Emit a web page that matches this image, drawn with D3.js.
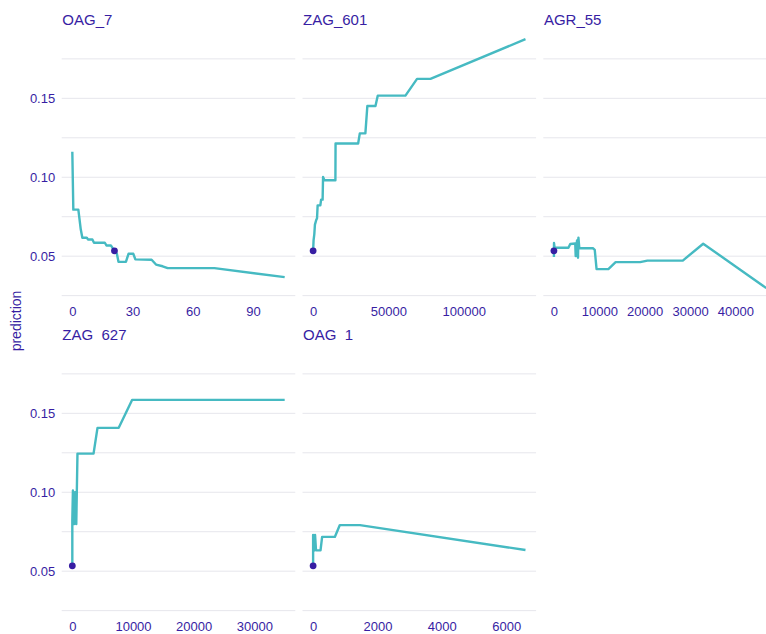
<!DOCTYPE html>
<html><head><meta charset="utf-8">
<script src="https://cdn.jsdelivr.net/npm/d3@7"></script>
<style>body{margin:0;background:#fff}svg{display:block;font-family:"Liberation Sans",Arial,Helvetica,sans-serif}</style>
</head><body><svg id="chart" width="766" height="634"></svg>
<script>
// ---- data ----
const variables = ["OAG_7", "ZAG_601", "AGR_55", "ZAG_627", "OAG_1"];

const profileOAG_7 = [
  [0, 0.1161], [0.5, 0.0795], [3, 0.0795], [4.2, 0.0670], [5, 0.0617], [7.2, 0.0617],
  [7.8, 0.0606], [10, 0.0606], [10.8, 0.0585], [16.2, 0.0585], [17, 0.0568], [19.2, 0.0568],
  [21, 0.0534], [22.2, 0.0515], [23, 0.0464], [26.7, 0.0464], [28, 0.0515], [30.4, 0.0515],
  [31.4, 0.0480], [39.5, 0.0477], [41.7, 0.0447], [45, 0.0436], [47.5, 0.0424],
  [70.8, 0.0424], [105.8, 0.0367]
];
const profileZAG_601 = [
  [0, 0.0534], [300, 0.0600], [800, 0.0640], [1200, 0.0700], [2000, 0.0727], [2600, 0.0740],
  [3000, 0.0822], [4800, 0.0822], [5300, 0.0858], [6300, 0.0858], [6600, 0.1002], [7500, 0.0981],
  [14800, 0.0981], [14900, 0.1214], [29900, 0.1214], [31000, 0.1278], [34700, 0.1278],
  [36000, 0.1451], [41400, 0.1451], [42900, 0.1517], [61300, 0.1517], [69000, 0.1623],
  [77900, 0.1623], [141000, 0.1875]
];
const profileAGR_55 = [
  [0, 0.0495], [20, 0.0583], [150, 0.0553], [3200, 0.0553], [3600, 0.0577], [4700, 0.0580],
  [4800, 0.0500], [5100, 0.0600], [5300, 0.0490], [5400, 0.0617], [5600, 0.0550], [8600, 0.0550],
  [9000, 0.0540], [9400, 0.0418], [12000, 0.0418], [13600, 0.0462], [19000, 0.0462],
  [20600, 0.0472], [28400, 0.0472], [32900, 0.0579], [46800, 0.0298]
];
const profileZAG_627 = [
  [0, 0.0534], [0, 0.0824], [100, 0.1011], [300, 0.0798], [450, 0.1000], [650, 0.0798],
  [850, 0.1245], [3500, 0.1245], [4150, 0.1408], [7650, 0.1408], [9850, 0.1585], [35000, 0.1585]
];
const profileOAG_1 = [
  [0, 0.0534], [0, 0.0730], [30, 0.0630], [60, 0.0730], [90, 0.0632], [230, 0.0632],
  [280, 0.0717], [675, 0.0717], [830, 0.0792], [1455, 0.0792], [6600, 0.0634]
];

const observedX = [21, 0, 0, 0, 0];
const observedPrediction = 0.0534;

const xTicksOAG_7 = [0, 30, 60, 90];
const xTicksZAG_601 = [0, 50000, 100000];
const xTicksAGR_55 = [0, 10000, 20000, 30000, 40000];
const xTicksZAG_627 = [0, 10000, 20000, 30000];
const xTicksOAG_1 = [0, 2000, 4000, 6000];

const yTicks = [0.05, 0.10, 0.15];
const yTickLabels = ["0.05", "0.10", "0.15"];
const yMinorTicks = [0.025, 0.075, 0.125, 0.175];
const yTitle = "prediction";

// ---- layout / style ----
const profiles = [profileOAG_7, profileZAG_601, profileAGR_55, profileZAG_627, profileOAG_1];
const xTickSets = [xTicksOAG_7, xTicksZAG_601, xTicksAGR_55, xTicksZAG_627, xTicksOAG_1];
const lineColor = "#46bac2", pointColor = "#371ea3", textColor = "#371ea3", gridColor = "#e6e6ec";
const panelW = 233.6, panelH = 273.8;
const panelLefts = [61.7, 302.5, 543.3];
const rowTops = [26.7, 341.7];

const svg = d3.select("#chart");

function expand(ext) {
  const pad = (ext[1] - ext[0]) * 0.05;
  return [ext[0] - pad, ext[1] + pad];
}
const allY = profiles.flat().map(d => d[1]).concat([observedPrediction]);
const yDomain = expand(d3.extent(allY));

const defs = svg.append("defs");

variables.forEach((v, i) => {
  const col = i % 3, row = Math.floor(i / 3);
  const left = panelLefts[col], top = rowTops[row];
  const data = profiles[i];
  const x = d3.scaleLinear().domain(expand(d3.extent(data, d => d[0]))).range([left, left + panelW]);
  const y = d3.scaleLinear().domain(yDomain).range([top + panelH, top]);

  const g = svg.append("g");
  g.selectAll("line.minor").data(yMinorTicks).join("line")
    .attr("x1", left).attr("x2", left + panelW)
    .attr("y1", d => y(d)).attr("y2", d => y(d))
    .attr("stroke", gridColor).attr("stroke-width", 1);
  g.selectAll("line.major").data(yTicks).join("line")
    .attr("x1", left).attr("x2", left + panelW)
    .attr("y1", d => y(d)).attr("y2", d => y(d))
    .attr("stroke", gridColor).attr("stroke-width", 1);

  if (col === 0) {
    const ya = d3.axisLeft(y).tickValues(yTicks).tickFormat((d, k) => yTickLabels[k]).tickSize(0).tickPadding(6.5);
    const ag = svg.append("g").attr("transform", `translate(${left},0)`).call(ya);
    ag.select(".domain").remove();
    ag.selectAll("text").attr("fill", textColor).attr("font-size", 13)
      .attr("font-family", '"Liberation Sans",Arial,sans-serif');
  }

  const xa = d3.axisBottom(x).tickValues(xTickSets[i]).tickFormat(d3.format("d")).tickSize(0).tickPadding(0);
  const xg = svg.append("g").attr("transform", `translate(0,${top + panelH + 5})`).call(xa);
  xg.select(".domain").remove();
  xg.selectAll("text").attr("fill", textColor).attr("font-size", 13).attr("dy", "0.71em")
    .attr("y", 1).attr("font-family", '"Liberation Sans",Arial,sans-serif');

  g.append("path").datum(data)
    .attr("d", d3.line().x(d => x(d[0])).y(d => y(d[1])))
    .attr("fill", "none").attr("stroke", lineColor).attr("stroke-width", 2.4)
    .attr("stroke-linejoin", "round").attr("stroke-linecap", "butt");

  g.append("circle").attr("cx", x(observedX[i])).attr("cy", y(observedPrediction))
    .attr("r", 3.4).attr("fill", pointColor);

  const baseline = top - 1.7;
  const t = svg.append("text").attr("x", left + 0.6).attr("y", baseline)
    .attr("fill", textColor).attr("font-size", 15).text(v);
  if (row === 1) {
    const id = "clip" + i;
    defs.append("clipPath").attr("id", id).append("rect")
      .attr("x", left - 5).attr("y", baseline - 20).attr("width", panelW).attr("height", 20.8);
    t.attr("clip-path", `url(#${id})`);
  }
});

svg.append("text").attr("transform", "translate(21,321) rotate(-90)")
  .attr("text-anchor", "middle").attr("fill", textColor).attr("font-size", 14).text(yTitle);
</script>
</body></html>
